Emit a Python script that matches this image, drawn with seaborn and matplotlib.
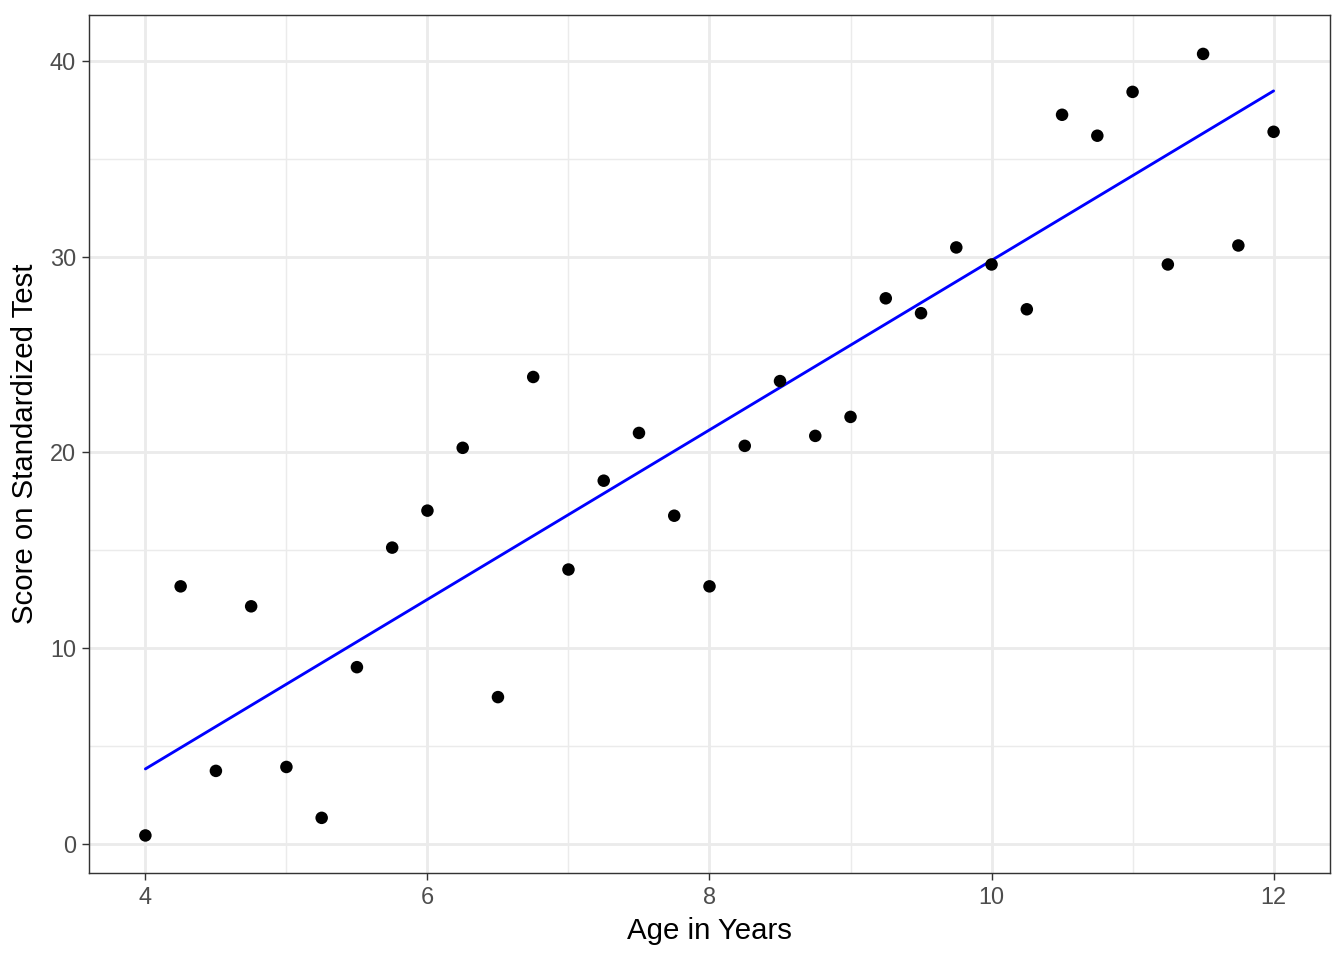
import numpy as np
import pandas as pd
import matplotlib
matplotlib.use("Agg")
import matplotlib.pyplot as plt
import seaborn as sns

# Age (years) and test scores
age = [4.0, 4.25, 4.5, 4.75, 5.0, 5.25, 5.5, 5.75, 6.0, 6.25, 6.5, 6.75,
       7.0, 7.25, 7.5, 7.75, 8.0, 8.25, 8.5, 8.75, 9.0, 9.25, 9.5, 9.75,
       10.0, 10.25, 10.5, 10.75, 11.0, 11.25, 11.5, 11.75, 12.0]
score = [0.42, 13.15, 3.72, 12.13, 3.92, 1.32, 9.02, 15.13, 17.02, 20.23, 7.49, 23.85,
         14.01, 18.55, 20.99, 16.76, 13.15, 20.33, 23.64, 20.84, 21.81, 27.87, 27.11, 30.47,
         29.60, 27.31, 37.25, 36.18, 38.42, 29.60, 40.36, 30.57, 36.38]

# fitted line endpoints, as shown in the reference
line_age = [4.0, 12.0]
line_score = [3.82, 38.47]

x_ticks = [4, 6, 8, 10, 12]
y_ticks = [0, 10, 20, 30, 40]

df = pd.DataFrame({"age": age, "score": score})
fit = pd.DataFrame({"age": line_age, "score": line_score})

sns.set_theme(style="white")
plt.rcParams["font.family"] = ["Liberation Sans", "DejaVu Sans"]

fig = plt.figure(figsize=(7, 5), dpi=192)
ax = fig.add_axes([0.0662, 0.0906, 0.9896 - 0.0662, 0.9844 - 0.0906])

# grid (theme_bw look)
ax.set_axisbelow(True)
ax.set_xticks([5, 7, 9, 11], minor=True)
ax.set_yticks([5, 15, 25, 35], minor=True)
ax.grid(True, which="major", color="#EBEBEB", linewidth=1.07)
ax.grid(True, which="minor", color="#EBEBEB", linewidth=0.53)

sns.scatterplot(data=df, x="age", y="score", color="black", s=22,
                edgecolor="none", ax=ax, zorder=3)
sns.lineplot(data=fit, x="age", y="score", color="blue", linewidth=1.07,
             ax=ax, zorder=2)

ax.set_xlim(3.6, 12.4)
ax.set_ylim(-1.5, 42.35)
ax.set_xticks(x_ticks)
ax.set_yticks(y_ticks)
ax.set_xticklabels([str(t) for t in x_ticks])
ax.set_yticklabels([str(t) for t in y_ticks])

ax.set_xlabel("Age in Years", fontsize=11, color="black", labelpad=3)
ax.set_ylabel("Score on Standardized Test", fontsize=11, color="black", labelpad=4)
ax.tick_params(axis="both", which="major", labelsize=8.8, labelcolor="#4D4D4D",
               color="#333333", length=2.75, width=0.53, pad=2.2,
               bottom=True, left=True)
ax.tick_params(axis="both", which="minor", length=0)

for sp in ax.spines.values():
    sp.set_visible(True)
    sp.set_color("#333333")
    sp.set_linewidth(1.07 * 0.5)

fig.savefig("out.png", dpi=192, facecolor="white")
plt.close(fig)
